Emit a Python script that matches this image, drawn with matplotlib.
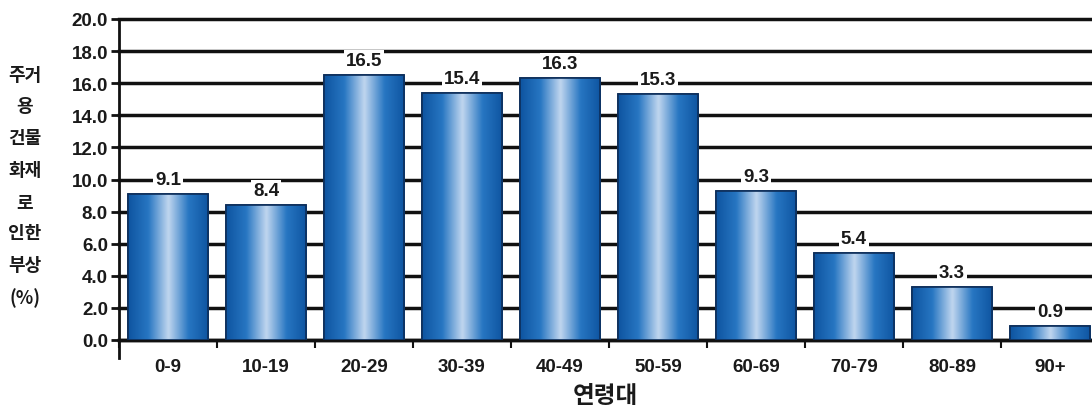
import numpy as np
import matplotlib
matplotlib.use("Agg")
import matplotlib.pyplot as plt
from matplotlib.colors import LinearSegmentedColormap

plt.rcParams['font.family'] = ['Liberation Sans', 'Noto Sans CJK KR', 'DejaVu Sans']

age_groups = ["0-9", "10-19", "20-29", "30-39", "40-49", "50-59", "60-69", "70-79", "80-89", "90+"]
injury_pct = [9.1, 8.4, 16.5, 15.4, 16.3, 15.3, 9.3, 5.4, 3.3, 0.9]
y_ticks = [0, 2, 4, 6, 8, 10, 12, 14, 16, 18, 20]

fig = plt.figure(figsize=(10.92, 4.14), dpi=100)
ax = fig.add_axes([119/1092, 73/414, 1 - 119/1092, 321/414])

x = np.arange(len(age_groups))
bars = ax.bar(x, injury_pct, width=0.82, color='#1565b0', edgecolor='#0d2e5a',
              linewidth=1.2, zorder=3)

# horizontal gradient: dark edges, light centre
grad_cmap = LinearSegmentedColormap.from_list(
    "bar", ["#0e54a0", "#2776c2", "#c0d6ef", "#2776c2", "#0e54a0"])
grad = np.linspace(0, 1, 256).reshape(1, -1)
for b in bars:
    x0, w, h = b.get_x(), b.get_width(), b.get_height()
    im = ax.imshow(grad, cmap=grad_cmap, aspect='auto', extent=[x0, x0 + w, 0, h],
                   zorder=3.5, interpolation='bicubic')
    im.set_clip_path(b)
    ax.bar(b.get_x() + w / 2, h, width=w, fill=False, edgecolor='#0d2e5a',
           linewidth=1.2, zorder=4)

for xi, v in zip(x, injury_pct):
    ax.text(xi, v + 0.9, f"{v:.1f}", ha='center', va='center', fontsize=13.5,
            fontweight='bold', color='#1a1a1a', zorder=5,
            bbox=dict(facecolor='white', edgecolor='none', pad=1.5))

ax.set_xlim(-0.5, 9.43)
ax.set_ylim(0, 20)
ax.set_yticks(y_ticks)
ax.set_yticklabels([f"{t:.1f}" for t in y_ticks], fontsize=13.5, fontweight='bold', color='#1a1a1a')
ax.yaxis.grid(True, color='#111111', linewidth=2.5, zorder=0)
for gl in ax.get_ygridlines():
    gl.set_clip_on(False)
ax.set_axisbelow(True)

ax.set_xticks(x)
ax.set_xticklabels(age_groups, fontsize=13.5, fontweight='bold', color='#1a1a1a')
ax.tick_params(axis='x', which='major', length=0, pad=13)
ax.set_xticks(np.arange(-0.5, 9.5, 1), minor=True)
ax.tick_params(axis='x', which='minor', length=6, width=1.5, color='#111111', direction='out')
ax.tick_params(axis='y', length=6, width=2, color='#111111', pad=2)

for s in ['top', 'right']:
    ax.spines[s].set_visible(False)
ax.spines['left'].set_linewidth(2)
ax.spines['left'].set_color('#111111')
ax.spines['bottom'].set_linewidth(2.5)
ax.spines['bottom'].set_color('#111111')
ax.spines['left'].set_bounds(-1.1, 20)

ax.set_xlabel("연령대", fontsize=17, fontweight='bold', color='#1a1a1a',
              family=['Noto Sans CJK KR', 'DejaVu Sans'], labelpad=6)
fig.text(25/1092, 1 - 187/414, "주거\n용\n건물\n화재\n로\n인한\n부상\n(%)",
         ha='center', va='center', fontsize=13, fontweight='bold', color='#1a1a1a',
         family=['Noto Sans CJK KR', 'DejaVu Sans'], linespacing=1.85)

fig.savefig("out.png", dpi=100)
